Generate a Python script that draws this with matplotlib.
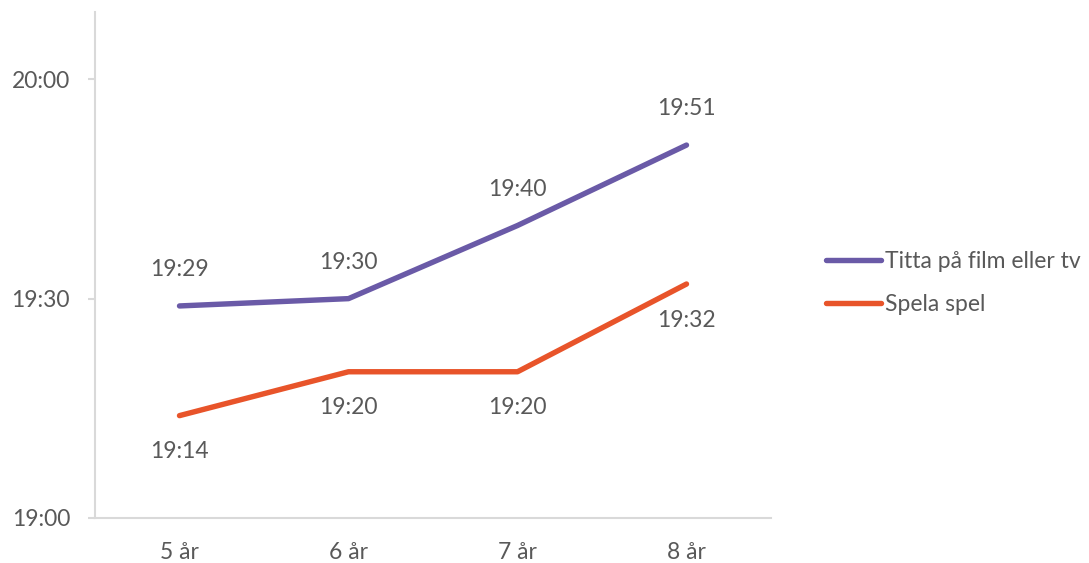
import matplotlib.pyplot as plt
from matplotlib.ticker import FixedLocator, FuncFormatter

# minutes after 19:00
categories = ["5 år", "6 år", "7 år", "8 år"]
titta = [29, 30, 40, 51]
spela = [14, 20, 20, 32]
series_names = ["Titta på film eller tv", "Spela spel"]
yticks = [0, 30, 60]

TXT = "#595959"
GRID = "#d9d9d9"
PURPLE = "#6a5aa7"
ORANGE = "#e8542a"

plt.rcParams['font.family'] = ['Lato', 'DejaVu Sans']


def fmt(m, pos=None):
    m = int(round(m))
    return "%d:%02d" % (19 + m // 60, m % 60)


fig = plt.figure(figsize=(10.89, 5.63), dpi=100)
ax = fig.add_axes([95 / 1089, 1 - 518 / 563, (771 - 95) / 1089, (518 - 12) / 563])

x = [i + 0.5 for i in range(len(categories))]
l1, = ax.plot(x, titta, color=PURPLE, lw=3.9, solid_capstyle='round')
l2, = ax.plot(x, spela, color=ORANGE, lw=3.9, solid_capstyle='round')

for xi, v in zip(x, titta):
    ax.annotate(fmt(v), (xi, v), xytext=(0, 26), textcoords='offset points',
                ha='center', va='center', fontsize=16.5, color=TXT)
for xi, v in zip(x, spela):
    ax.annotate(fmt(v), (xi, v), xytext=(0, -26), textcoords='offset points',
                ha='center', va='center', fontsize=16.5, color=TXT)

ax.set_xlim(0, len(categories))
ax.set_ylim(0, 69.2)
ax.set_xticks(x)
ax.set_xticklabels(categories)
ax.yaxis.set_major_locator(FixedLocator(yticks))
ax.yaxis.set_major_formatter(FuncFormatter(fmt))

for s in ['top', 'right']:
    ax.spines[s].set_visible(False)
for s in ['left', 'bottom']:
    ax.spines[s].set_color(GRID)
    ax.spines[s].set_linewidth(1.5)
ax.tick_params(axis='y', length=5, width=1.5, color=GRID, pad=13,
               labelsize=16.5, labelcolor=TXT)
ax.tick_params(axis='x', length=0, pad=17, labelsize=16.5, labelcolor=TXT)

fig.legend([l1, l2], series_names, loc='center left',
           bbox_to_anchor=(805 / 1089, 1 - 283 / 563), frameon=False,
           fontsize=16.5, labelcolor=TXT, handlelength=2.4, handletextpad=0.2,
           labelspacing=1.0)

fig.savefig("out.png", dpi=100)
